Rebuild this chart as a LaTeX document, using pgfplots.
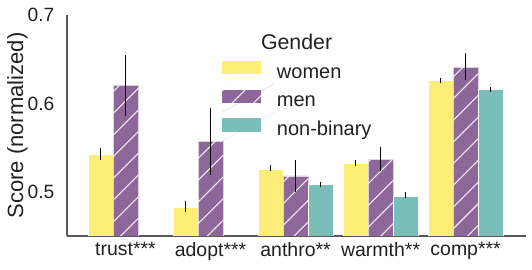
\documentclass[border=0pt]{standalone}
\usepackage{fontspec}
\setmainfont{Liberation Sans}
\usepackage{pgfplots}
\pgfplotsset{compat=1.18}
\usetikzlibrary{patterns.meta}
\definecolor{cw}{RGB}{253,238,122}
\definecolor{cm}{RGB}{142,103,154}
\definecolor{cn}{RGB}{122,190,186}
\begin{document}
\begin{tikzpicture}
\begin{axis}[
  scale only axis, width=344.25pt, height=165.75pt,
  xmin=-0.688, xmax=4.71, ymin=0.45, ymax=0.7,
  axis x line*=bottom, axis y line*=left,
  axis line style={draw=black!65, line width=0.9pt},
  xtick={0,1,2,3,4},
  xticklabels={trust***,adopt***,anthro**,warmth**,comp***},
  ytick={0.5,0.6,0.7}, yticklabels={0.5,0.6,0.7},
  major tick length=0pt,
  /pgf/number format/assume math mode=true,
  xticklabel style={font=\fontsize{14.6}{17}\selectfont, text=black!87, yshift=-1pt},
  yticklabel style={font=\fontsize{14.4}{17}\selectfont, text=black!87, xshift=-6pt},
  every axis y label/.style={at={(axis description cs:-0.108,0.5)}, rotate=90, anchor=center},
  ylabel={Score (normalized)},
  ylabel style={font=\fontsize{16.5}{19}\selectfont, text=black!87},
  ybar, bar width=0.294,
  error bars/error bar style={black, line width=1.1pt},
  error bars/error mark=none,
  legend style={at={(axis description cs:0.3377,0.8185)}, anchor=north west, draw=none, fill=none,
    font=\fontsize{15}{18}\selectfont, text=black!87, row sep=0pt, inner sep=0pt,
    nodes={text height=8pt, text depth=2pt, inner sep=2pt}},
  legend cell align=left,
  legend image code/.code={\path[#1] (0pt,-0.3pt) rectangle (29pt,9.7pt); \path (0pt,-7.4pt) -- (39pt,14pt);},
]
% women
\addplot[fill=cw, draw=white, line width=0.4pt, bar shift=-0.294, forget plot,
  error bars/.cd, y dir=both, y explicit]
coordinates {
 (0,0.542) += (0,0.007) -= (0,0.006)
 (1,0.483) += (0,0.007) -= (0,0.006)
 (2,0.526) += (0,0.0045) -= (0,0.003)
 (3,0.532) += (0,0.004) -= (0,0.0025)
 (4,0.6258) += (0,0.003) -= (0,0.0023)
};
% men fill
\addplot[fill=cm, draw=white!70!cm, line width=0.4pt, bar shift=0, forget plot]
coordinates {(0,0.620) (1,0.557) (2,0.518) (3,0.537) (4,0.641)};
% men hatch + error bars
\addplot[draw=none, pattern={Lines[angle=45, distance=11.5pt, line width=0.8pt]}, pattern color=white!88!cm,
  bar shift=0, forget plot, error bars/.cd, y dir=both, y explicit]
coordinates {
 (0,0.620) += (0,0.035) -= (0,0.034)
 (1,0.557) += (0,0.038) -= (0,0.038)
 (2,0.518) += (0,0.018) -= (0,0.018)
 (3,0.537) += (0,0.014) -= (0,0.013)
 (4,0.641) += (0,0.016) -= (0,0.015)
};
% non-binary
\addplot[fill=cn, draw=white, line width=0.4pt, bar shift=0.294, forget plot,
  error bars/.cd, y dir=both, y explicit]
coordinates {
 (2,0.508) += (0,0.0036) -= (0,0.003)
 (3,0.4955) += (0,0.004) -= (0,0.0023)
 (4,0.616) += (0,0.002) -= (0,0.0027)
};
\addlegendimage{fill=cw, draw=none}
\addlegendentry{women}
\addlegendimage{fill=cm, draw=none, postaction={pattern={Lines[angle=45, distance=11.5pt, line width=0.8pt]}, pattern color=white!88!cm}}
\addlegendentry{men}
\addlegendimage{fill=cn, draw=none}
\addlegendentry{non-binary}
\node[font=\fontsize{16}{19}\selectfont, text=black!87] at (axis cs:2.012,0.6700) {Gender};
\end{axis}
\path (current axis.south west) ++(-50.25pt,-25.5pt) rectangle ++(399pt,202.5pt);
\end{tikzpicture}
\end{document}
